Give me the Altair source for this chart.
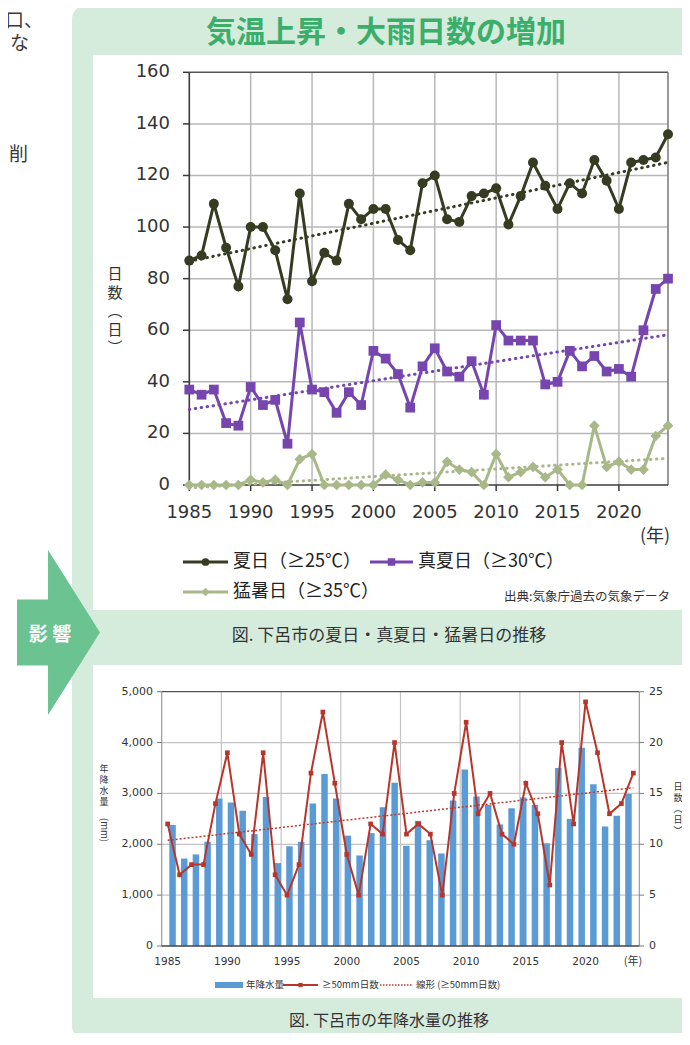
import altair as alt
import pandas as pd

# ---------------- data ----------------
years = list(range(1985, 2025))
natsubi = [87, 89, 109, 92, 77, 100, 100, 91, 72, 113,
           79, 90, 87, 109, 103, 107, 107, 95, 91, 117,
           120, 103, 102, 112, 113, 115, 101, 112, 125, 116,
           107, 117, 113, 126, 118, 107, 125, 126, 127, 136]
manatsubi = [37, 35, 37, 24, 23, 38, 31, 33, 16, 63,
             37, 36, 28, 36, 31, 52, 49, 43, 30, 46,
             53, 44, 42, 48, 35, 62, 56, 56, 56, 39,
             40, 52, 46, 50, 44, 45, 42, 60, 76, 80]
moshobi = [0, 0, 0, 0, 0, 2, 1, 2, 0, 10,
           12, 0, 0, 0, 0, 0, 4, 2, 0, 1,
           1, 9, 6, 5, 0, 12, 3, 5, 7, 3,
           6, 0, 0, 23, 7, 9, 6, 6, 19, 23]
precip_mm = [2380, 1720, 1800, 2050, 2900, 2820, 2660, 2200, 2930, 1630,
             1960, 2050, 2800, 3380, 2900, 2170, 1780, 2220, 2730, 3210,
             1970, 2460, 2080, 1820, 2860, 3470, 2940, 2770, 2390, 2710,
             2920, 2770, 2020, 3500, 2500, 3900, 3180, 2350, 2560, 2990]
heavy_days = [12, 7, 8, 8, 14, 19, 11, 9, 19, 7,
              5, 8, 17, 23, 16, 9, 5, 12, 11, 20,
              11, 12, 11, 5, 15, 22, 13, 15, 11, 10,
              16, 13, 6, 20, 12, 24, 19, 13, 14, 17]

series_names = ["夏日（≥25℃）", "真夏日（≥30℃）", "猛暑日（≥35℃）"]
series_values = [natsubi, manatsubi, moshobi]
series_colors = ["#363c21", "#7646ae", "#a8b889"]
series_shapes = ["circle", "square", "diamond"]
series_sizes = [100, 95, 115]

ticks_top_y = [0, 20, 40, 60, 80, 100, 120, 140, 160]
ticks_top_x = [1985, 1990, 1995, 2000, 2005, 2010, 2015, 2020]
ticks_bot_mm = [0, 1000, 2000, 3000, 4000, 5000]
labels_bot_mm = ["0", "1,000", "2,000", "3,000", "4,000", "5,000"]
ticks_bot_days = [0, 5, 10, 15, 20, 25]
ticks_bot_x = [1985, 1990, 1995, 2000, 2005, 2010, 2015, 2020]

title_top_chars = ["日", "数", "︵", "日", "︶"]
title_mm_chars = ["年", "降", "水", "量"]
title_days_chars = ["日", "数", "︵", "日", "︶"]

JP = "Noto Sans CJK JP"
NUM = "DejaVu Sans"

# ---------------- scales (pixel ranges of each panel) ----------------
XA = alt.Scale(domain=[1985, 2024], range=[181.3, 660], nice=False, zero=False)
YA = alt.Scale(domain=[0, 160], range=[477, 64.3], nice=False, zero=False)
XB = alt.Scale(domain=[1984.5, 2024.5], range=[153.7, 631.3], nice=False, zero=False)
YB = alt.Scale(domain=[0, 5000], range=[938, 683.7], nice=False, zero=False)
YB2 = alt.Scale(domain=[0, 25], range=[938, 683.7], nice=False, zero=False)

one = pd.DataFrame({"k": [0]})
V = alt.value


def rect(x1, x2, y1, y2, color, radius=0):
    return alt.Chart(one).mark_rect(color=color, cornerRadius=radius).encode(
        x=V(x1), x2=V(x2), y=V(y1), y2=V(y2))


def hrule(x1, x2, y, color, w=1.0, dash=None):
    kw = {"strokeDash": dash} if dash else {}
    return alt.Chart(one).mark_rule(color=color, strokeWidth=w, **kw).encode(
        x=V(x1), x2=V(x2), y=V(y))


def vrule(x, y1, y2, color, w=1.0):
    return alt.Chart(one).mark_rule(color=color, strokeWidth=w).encode(
        x=V(x), y=V(y1), y2=V(y2))


def txt(s, x, y, size, color="#333333", align="left", font=JP, weight="normal",
        baseline="middle", **kw):
    return alt.Chart(one).mark_text(text=s, align=align, baseline=baseline, fontSize=size,
                                    font=font, fontWeight=weight, color=color, **kw).encode(
        x=V(x), y=V(y))


def vstack(chars, x, y0, step, size):
    return [txt(c, x, y0 + i * step, size, align="center") for i, c in enumerate(chars)]


def sym(x, y, shape, size, color):
    return alt.Chart(one).mark_point(shape=shape, size=size, filled=True, color=color,
                                     opacity=1).encode(x=V(x), y=V(y))


layers = []

# ---------------- page decoration ----------------
layers += [
    txt("口、", -3, 13, 19, color="#3a3a3a"),
    txt("な", 2, 36, 19, color="#3a3a3a"),
    txt("削", 1, 147, 19, color="#3a3a3a"),
    rect(64, 700, -3, 1032, "#d5ebdc", radius=14),
    rect(85, 700, 47, 602, "#ffffff"),
    rect(85, 700, 657, 990, "#ffffff"),
    alt.Chart(one).mark_point(
        shape="M -0.503 -0.4 L -0.127 -0.4 L -0.127 -1 L 0.503 0 L -0.127 1 L -0.127 0.4 L -0.503 0.4 Z",
        size=27225, filled=True, color="#6cc392", opacity=1, strokeWidth=0
    ).encode(x=V(50.5), y=V(624.5)),
    txt("影 響", 42, 627, 19, color="#ffffff", align="center", weight="bold"),
    txt("気温上昇・大雨日数の増加", 378, 25, 30, color="#3cae6b", align="center", weight="bold"),
    txt("図. 下呂市の夏日・真夏日・猛暑日の推移", 381, 628, 17, color="#333333", align="center"),
    txt("図. 下呂市の年降水量の推移", 381, 1013, 16, color="#333333", align="center"),
]

# ---------------- top chart: grid & axes ----------------
layers += [
    alt.Chart(pd.DataFrame({"v": ticks_top_y[1:-1]})).mark_rule(color="#b8b8b8", strokeWidth=1.5).encode(
        y=alt.Y("v:Q", scale=YA, axis=None), x=V(181.3), x2=V(660)),
    alt.Chart(pd.DataFrame({"v": ticks_top_x[1:]})).mark_rule(color="#b8b8b8", strokeWidth=1.5).encode(
        x=alt.X("v:Q", scale=XA, axis=None), y=V(64.3), y2=V(477)),
    hrule(181.3, 660, 64.3, "#555555", 1.5),
    vrule(660, 64.3, 477, "#777777", 1.5),
    vrule(181.3, 64.3, 477, "#3a3a3a", 1.6),
    hrule(181.3, 660, 477, "#3a3a3a", 1.6),
    alt.Chart(pd.DataFrame({"v": ticks_top_y})).mark_rule(color="#3a3a3a", strokeWidth=1.5).encode(
        y=alt.Y("v:Q", scale=YA, axis=None), x=V(175), x2=V(181.3)),
    alt.Chart(pd.DataFrame({"v": ticks_top_x})).mark_rule(color="#3a3a3a", strokeWidth=1.5).encode(
        x=alt.X("v:Q", scale=XA, axis=None), y=V(477), y2=V(483)),
    alt.Chart(pd.DataFrame({"v": ticks_top_y})).mark_text(
        align="right", baseline="middle", fontSize=18, font=NUM, color="#333333").encode(
        y=alt.Y("v:Q", scale=YA, axis=None), x=V(162), text="v:Q"),
    alt.Chart(pd.DataFrame({"v": ticks_top_x})).mark_text(
        align="center", baseline="middle", fontSize=18, font=NUM, color="#333333").encode(
        x=alt.X("v:Q", scale=XA, axis=None), y=V(505), text=alt.Text("v:Q", format="d")),
    txt("(年)", 647, 529, 18, color="#333333", align="center"),
]
layers += vstack(title_top_chars, 107, 266, 18.5, 15)

# ---------------- top chart: series ----------------
frames = []
for name, vals in zip(series_names, series_values):
    frames.append(pd.DataFrame({"year": years, "value": vals, "series": name}))
dfA = pd.concat(frames, ignore_index=True)

for name, col in zip(series_names, series_colors):
    layers.append(
        alt.Chart(dfA).transform_filter(alt.datum.series == name)
        .transform_regression("year", "value")
        .mark_line(color=col, strokeWidth=3, strokeDash=[0.5, 5.5], strokeCap="round")
        .encode(x=alt.X("year:Q", scale=XA, axis=None), y=alt.Y("value:Q", scale=YA, axis=None))
    )
for name, col, shp, sz in zip(series_names, series_colors, series_shapes, series_sizes):
    base = alt.Chart(dfA).transform_filter(alt.datum.series == name)
    layers.append(base.mark_line(color=col, strokeWidth=3).encode(
        x=alt.X("year:Q", scale=XA, axis=None), y=alt.Y("value:Q", scale=YA, axis=None)))
    layers.append(base.mark_point(shape=shp, size=sz, filled=True, color=col, opacity=1).encode(
        x=alt.X("year:Q", scale=XA, axis=None), y=alt.Y("value:Q", scale=YA, axis=None)))

# top legend
leg_pos = [(175, 220, 554), (362, 405, 554), (175, 220, 584)]
for (x1, x2, y), name, col, shp, sz in zip(leg_pos, series_names, series_colors, series_shapes, series_sizes):
    layers += [
        hrule(x1, x2, y, col, 3),
        sym((x1 + x2) / 2, y, shp, sz * 0.6, col),
        txt(name, x2 + 5, y, 18, color="#222222"),
    ]
layers.append(txt("出典:気象庁過去の気象データ", 662, 589, 12.5, color="#333333", align="right"))

# ---------------- bottom chart ----------------
dfB = pd.DataFrame({"year": years, "mm": precip_mm, "days": heavy_days})
layers += [
    alt.Chart(pd.DataFrame({"v": ticks_bot_mm[1:-1]})).mark_rule(color="#c4c4c4", strokeWidth=1.2).encode(
        y=alt.Y("v:Q", scale=YB, axis=None), x=V(153.7), x2=V(631.3)),
    alt.Chart(pd.DataFrame({"g": ticks_bot_x[1:]})).transform_calculate(b="datum.g - 0.5")
    .mark_rule(color="#c4c4c4", strokeWidth=1.2).encode(
        x=alt.X("b:Q", scale=XB, axis=None), y=V(683.7), y2=V(938)),
    hrule(153.7, 631.3, 683.7, "#555555", 1.3),
    vrule(153.7, 683.7, 938, "#9a9a9a", 1.2),
    vrule(631.3, 683.7, 938, "#9a9a9a", 1.2),
    alt.Chart(pd.DataFrame({"v": ticks_bot_mm})).mark_rule(color="#777777", strokeWidth=1).encode(
        y=alt.Y("v:Q", scale=YB, axis=None), x=V(149), x2=V(153.7)),
    alt.Chart(pd.DataFrame({"v": ticks_bot_days})).mark_rule(color="#777777", strokeWidth=1).encode(
        y=alt.Y("v:Q", scale=YB2, axis=None), x=V(631.3), x2=V(636)),
    alt.Chart(dfB).mark_bar(size=6.5, color="#5b9bd5").encode(
        x=alt.X("year:Q", scale=XB, axis=None), y=alt.Y("mm:Q", scale=YB, axis=None)),
    hrule(153.7, 631.3, 938, "#444444", 1.5),
    alt.Chart(dfB).transform_regression("year", "days")
    .mark_line(color="#c0392b", strokeWidth=1.5, strokeDash=[2, 2])
    .encode(x=alt.X("year:Q", scale=XB, axis=None), y=alt.Y("days:Q", scale=YB2, axis=None)),
    alt.Chart(dfB).mark_line(color="#b8352c", strokeWidth=2).encode(
        x=alt.X("year:Q", scale=XB, axis=None), y=alt.Y("days:Q", scale=YB2, axis=None)),
    alt.Chart(dfB).mark_point(shape="square", size=22, filled=True, color="#b8352c", opacity=1).encode(
        x=alt.X("year:Q", scale=XB, axis=None), y=alt.Y("days:Q", scale=YB2, axis=None)),
    alt.Chart(pd.DataFrame({"v": ticks_bot_mm, "t": labels_bot_mm})).mark_text(
        align="right", baseline="middle", fontSize=11, font=NUM, color="#333333").encode(
        y=alt.Y("v:Q", scale=YB, axis=None), x=V(145), text="t:N"),
    alt.Chart(pd.DataFrame({"v": ticks_bot_days})).mark_text(
        align="left", baseline="middle", fontSize=11, font=NUM, color="#333333").encode(
        y=alt.Y("v:Q", scale=YB2, axis=None), x=V(641), text="v:Q"),
    alt.Chart(pd.DataFrame({"v": ticks_bot_x})).mark_text(
        align="center", baseline="middle", fontSize=10.5, font=NUM, color="#333333").encode(
        x=alt.X("v:Q", scale=XB, axis=None), y=V(954), text=alt.Text("v:Q", format="d")),
    txt("(年)", 625, 954, 11, color="#333333", align="center"),
    txt("(mm)", 96, 822, 9.5, color="#333333", align="center", angle=90),
]
layers += vstack(title_mm_chars, 96, 761, 11, 9)
layers += vstack(title_days_chars, 670, 779, 11, 9)

# bottom legend
layers += [
    rect(207, 235, 974, 980, "#5b9bd5"),
    txt("年降水量", 238, 977, 9.5, color="#333333"),
    hrule(275, 310, 977, "#b8352c", 2),
    sym(292.5, 977, "square", 18, "#b8352c"),
    txt("≥50mm日数", 314, 977, 9.5, color="#333333"),
    hrule(372, 404, 977, "#c0392b", 1.3, dash=[1.5, 1.5]),
    txt("線形 (≥50mm日数)", 408, 977, 9.5, color="#333333"),
]

chart = alt.layer(*layers).resolve_scale(x="independent", y="independent").properties(
    width=674, height=1025, autosize=alt.AutoSizeParams(type="none"), padding=0,
    background="#ffffff"
).configure_view(strokeWidth=0)

chart.save("out.html", embed_options={"renderer": "svg", "actions": False})
